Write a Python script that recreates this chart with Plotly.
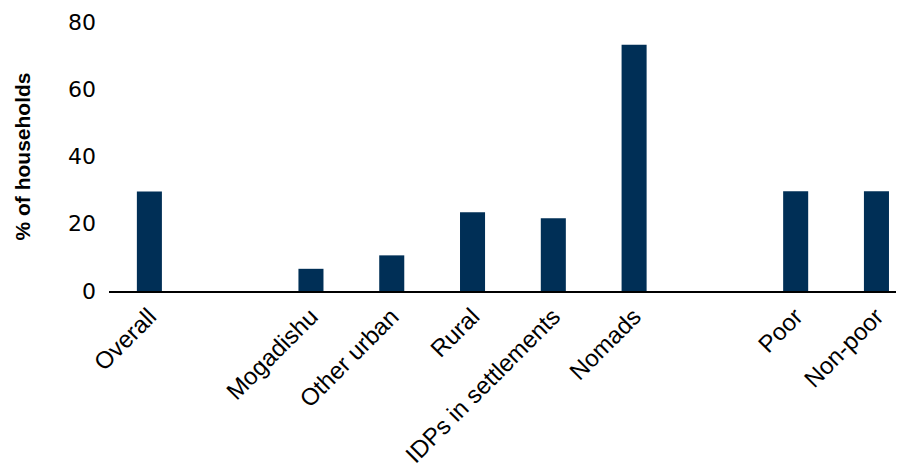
import plotly.graph_objects as go

categories = ["Overall", " ", "Mogadishu", "Other urban", "Rural",
              "IDPs in settlements", "Nomads", "  ", "Poor", "Non-poor"]
values = [29.6, None, 6.6, 10.6, 23.4, 21.6, 73.2, None, 29.7, 29.7]
y_ticks = [0, 20, 40, 60, 80]

fig = go.Figure(go.Bar(
    x=categories, y=values,
    marker=dict(color="#002F56", line=dict(width=0)),
    width=0.31,
))

fig.update_layout(
    width=904, height=472,
    margin=dict(l=101, r=0, t=14, b=188.5),
    paper_bgcolor="white", plot_bgcolor="white",
    showlegend=False,
    font=dict(family="Liberation Sans, Arial, sans-serif", color="#000000"),
)
fig.update_xaxes(
    type="category", range=[-0.5, 9.44], automargin=False,
    showline=True, linecolor="#000000", linewidth=2,
    showgrid=False, ticks="", tickangle=-45,
    tickfont=dict(size=24, family="Liberation Sans, Arial, sans-serif"),
)
fig.update_yaxes(
    range=[0, 80], tickvals=y_ticks, automargin=False,
    showline=False, showgrid=False, zeroline=False, ticks="",
    ticklabelstandoff=12,
    tickfont=dict(size=22, family="DejaVu Sans, sans-serif"),
    title=dict(text="<b>% of households</b>", standoff=31,
               font=dict(size=21, family="Liberation Sans, Arial, sans-serif")),
)

fig.write_html("out.html")
